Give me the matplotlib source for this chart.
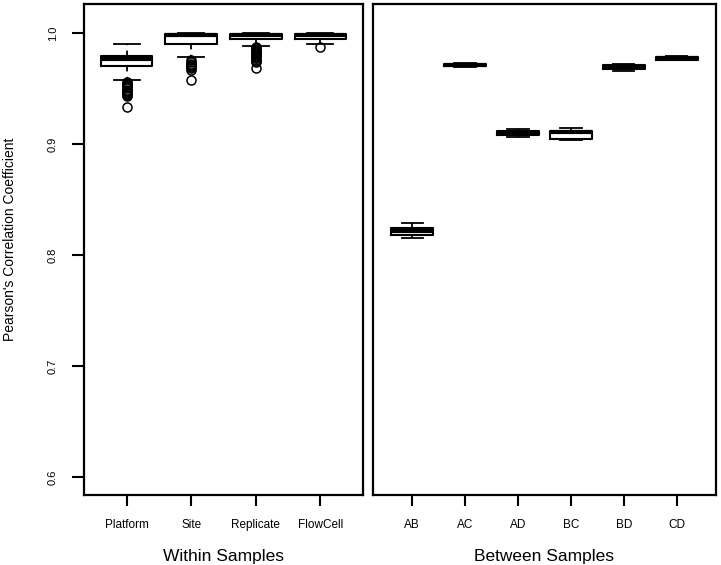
import matplotlib.pyplot as plt

plt.rcParams['font.family'] = ['Liberation Sans', 'DejaVu Sans']

# within samples
within_labels = ['Platform', 'Site', 'Replicate', 'FlowCell']
within_low = [0.958, 0.978, 0.988, 0.990]
within_q1 = [0.970, 0.990, 0.9946, 0.9946]
within_med = [0.9765, 0.998, 0.998, 0.998]
within_q3 = [0.9788, 0.9990, 0.9994, 0.9994]
within_high = [0.990, 1.000, 1.000, 1.000]
within_out = [
    [0.956, 0.955, 0.954, 0.953, 0.952, 0.951, 0.950, 0.949, 0.948, 0.947,
     0.946, 0.945, 0.944, 0.943, 0.9335],
    [0.976, 0.974, 0.972, 0.971, 0.970, 0.969, 0.968, 0.967, 0.958],
    [0.9875, 0.986, 0.985, 0.984, 0.983, 0.982, 0.981, 0.980, 0.979, 0.978,
     0.977, 0.976, 0.975, 0.974, 0.968],
    [0.987],
]

# between samples
between_labels = ['AB', 'AC', 'AD', 'BC', 'BD', 'CD']
between_low = [0.8153, 0.9695, 0.9067, 0.9037, 0.9653, 0.9753]
between_q1 = [0.8177, 0.9702, 0.9082, 0.9043, 0.9672, 0.9759]
between_med = [0.8218, 0.9711, 0.9100, 0.9112, 0.9693, 0.9771]
between_q3 = [0.8243, 0.9720, 0.9118, 0.9121, 0.9711, 0.9783]
between_high = [0.8285, 0.9725, 0.9134, 0.9143, 0.9720, 0.9790]


def make_stats(low, q1, med, q3, high, out=None):
    stats = []
    for i in range(len(med)):
        stats.append({'whislo': low[i], 'q1': q1[i], 'med': med[i], 'q3': q3[i],
                      'whishi': high[i], 'fliers': out[i] if out else []})
    return stats


fig = plt.figure(figsize=(7.21, 5.65), dpi=100)
ax1 = fig.add_axes([0.1165, 0.1239, 0.387, 0.869])
ax2 = fig.add_axes([0.5173, 0.1239, 0.4757, 0.869])

style = dict(
    widths=0.8,
    boxprops=dict(color='black', linewidth=1.5),
    medianprops=dict(color='black', linewidth=3),
    whiskerprops=dict(color='black', linewidth=1.3, linestyle=(0, (3, 3))),
    capprops=dict(color='black', linewidth=1.3),
    flierprops=dict(marker='o', markerfacecolor='none', markeredgecolor='black',
                    markersize=6.5, markeredgewidth=1.1),
    capwidths=0.4,
)

ax1.bxp(make_stats(within_low, within_q1, within_med, within_q3, within_high, within_out),
        positions=range(1, 5), **style)
ax2.bxp(make_stats(between_low, between_q1, between_med, between_q3, between_high),
        positions=range(1, 7), **style)

for ax, labels, n in [(ax1, within_labels, 4), (ax2, between_labels, 6)]:
    ax.set_ylim(0.584, 1.026)
    ax.set_xlim(0.5 - 0.04 * n, n + 0.5 + 0.04 * n)
    ax.set_xticks(range(1, n + 1))
    ax.set_xticklabels(labels, fontsize=8.5)
    ax.tick_params(axis='x', length=8, width=1.5, pad=9)
    for s in ax.spines.values():
        s.set_linewidth(1.6)

ax1.set_yticks([0.6, 0.7, 0.8, 0.9, 1.0])
ax1.set_yticklabels(['0.6', '0.7', '0.8', '0.9', '1.0'], rotation=90, va='center', fontsize=8)
ax1.tick_params(axis='y', length=9, width=1.5, pad=10)
ax2.set_yticks([])

ax1.set_xlabel('Within Samples', fontsize=12.5, labelpad=13)
ax2.set_xlabel('Between Samples', fontsize=12.5, labelpad=13)
ax1.set_ylabel("Pearson's Correlation Coefficient", fontsize=10)
ax1.yaxis.set_label_coords(-0.24, 0.521)

plt.savefig('out.png', dpi=100)
